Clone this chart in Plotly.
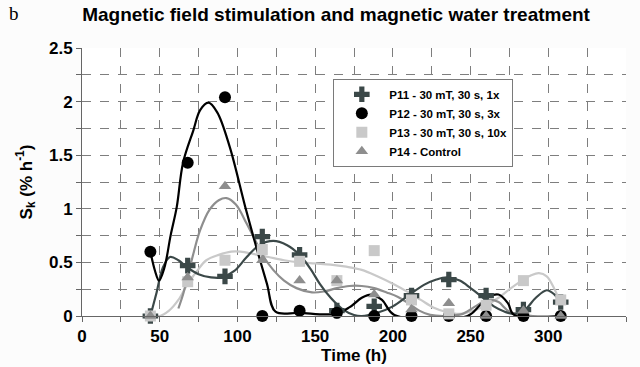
import plotly.graph_objects as go

# Measurement times (h)
time_h = [44, 68, 92, 116, 140, 164, 188, 212, 236, 260, 284, 308]

# Measured points
p11 = [0, 0.47, 0.37, 0.74, 0.57, 0.05, 0.09, 0.19, 0.34, 0.19, 0.06, 0.13]
p12 = [0.6, 1.43, 2.04, 0, 0.05, 0.03, 0, 0, 0, 0, 0, 0]
p13 = [0, 0.32, 0.52, 0.62, 0.51, 0.33, 0.61, 0.15, 0.02, 0.1, 0.33, 0.15]
p14 = [0, 0.36, 1.21, 0.52, 0.33, 0.33, 0.2, 0.06, 0.12, 0, 0.05, 0]

# Smoothed trend curves
p11_cx = [44, 48, 52, 56.6, 62, 68, 75, 83, 90, 98, 106, 114, 123, 132, 140, 147, 153, 160, 168, 175, 180,
          190, 200, 209, 220, 228, 235, 243, 250, 258, 265, 272, 278, 285, 292, 299, 304, 308]
p11_cy = [0, 0.22, 0.45, 0.55, 0.52, 0.45, 0.39, 0.36, 0.36, 0.42, 0.55, 0.66, 0.70, 0.66, 0.57, 0.44, 0.3,
          0.17, 0.06, 0.01, 0, 0.03, 0.09, 0.18, 0.29, 0.34, 0.36, 0.33, 0.26, 0.17, 0.09, 0.04, 0.02, 0.06,
          0.17, 0.24, 0.2, 0.13]

p12_cx = [44, 47, 49.5, 53, 57, 61, 65, 71.6, 76, 81.3, 87, 95, 105, 112, 119, 124.5, 140, 163, 172, 180,
          186, 193, 201, 248, 256, 262, 268, 274, 278, 308]
p12_cy = [0.6, 0.42, 0.33, 0.45, 0.75, 1.02, 1.43, 1.73, 1.92, 1.99, 1.9, 1.58, 1.02, 0.65, 0.3, 0.04, 0.03,
          0.02, 0.08, 0.17, 0.2, 0.15, 0.01, 0, 0.1, 0.18, 0.2, 0.12, 0.01, 0]

p13_cx = [44, 50, 56, 62, 68, 74, 80, 88, 96, 102, 110, 120, 130, 140, 150, 160, 170, 180, 190, 200, 210,
          218, 226, 234, 243, 252, 260, 268, 276, 283, 289, 294, 299, 304, 307]
p13_cy = [0.01, 0, 0.05, 0.15, 0.3, 0.42, 0.52, 0.57, 0.6, 0.6, 0.58, 0.55, 0.52, 0.5, 0.49, 0.48, 0.46,
          0.43, 0.37, 0.3, 0.22, 0.15, 0.08, 0.04, 0.02, 0.05, 0.1, 0.17, 0.26, 0.33, 0.38, 0.4, 0.37, 0.25,
          0.15]

p14_cx = [62, 65, 68, 72, 76, 82, 88, 93, 99, 106, 112, 117, 123, 130, 138, 148, 156, 164, 172, 180, 188,
          196, 203, 210, 217, 224, 235, 245, 252, 258, 263, 268, 275, 290, 308]
p14_cy = [0.07, 0.2, 0.37, 0.6, 0.8, 0.99, 1.08, 1.1, 1.04, 0.86, 0.69, 0.55, 0.43, 0.33, 0.26, 0.22, 0.23,
          0.26, 0.28, 0.28, 0.26, 0.22, 0.18, 0.12, 0.05, 0.01, 0, 0.02, 0.08, 0.13, 0.15, 0.13, 0.04, 0, 0]

names = ["<b>P11 - 30 mT, 30 s, 1x</b>", "<b>P12 - 30 mT, 30 s, 3x</b>",
         "<b>P13 - 30 mT, 30 s, 10x</b>", "<b>P14 - Control</b>"]
colors = ["#3b4848", "#000000", "#c9c9c9", "#8e8e8e"]
symbols = ["cross", "circle", "square", "triangle-up"]
sizes = [13, 12, 11, 11]

fig = go.Figure()

curves = [(p13_cx, p13_cy, 2), (p14_cx, p14_cy, 3), (p11_cx, p11_cy, 0), (p12_cx, p12_cy, 1)]
for cx, cy, i in curves:
    fig.add_trace(go.Scatter(x=cx, y=cy, mode="lines", line=dict(color=colors[i], width=2.2, shape="spline",
                                                                  smoothing=1.0),
                             showlegend=False, hoverinfo="skip", cliponaxis=False))

series = [p11, p12, p13, p14]
for i, s in enumerate(series):
    fig.add_trace(go.Scatter(x=time_h, y=s, mode="markers", name=names[i],
                             marker=dict(symbol=symbols[i], size=sizes[i], color=colors[i],
                                         line=dict(width=0)),
                             cliponaxis=False))

grid = dict(showgrid=True, gridcolor="#7e7e7e", griddash="dash", gridwidth=1)
fig.update_layout(
    width=640, height=367,
    margin=dict(l=82, r=14, t=48, b=51),
    paper_bgcolor="#fcfcfc", plot_bgcolor="#ffffff",
    font=dict(family="Liberation Sans, Arial, sans-serif", color="#000000"),
    title=dict(text="<b>Magnetic field stimulation and magnetic water treatment</b>",
               x=0.467, xref="paper", xanchor="center", y=0.962, yref="container", yanchor="middle",
               font=dict(size=19, family="Liberation Sans, Arial, sans-serif", color="#000")),
    legend=dict(x=0.462, y=0.885, xanchor="left", yanchor="top", bgcolor="#ffffff",
                bordercolor="#7a7a7a", borderwidth=1, itemwidth=45, tracegroupgap=0,
                font=dict(size=11.5, family="Liberation Sans, Arial, sans-serif", color="#000")),
    xaxis=dict(range=[0, 350], dtick=50, tick0=0, ticks="outside", ticklen=5, tickcolor="#666",
               showline=True, linecolor="#666", linewidth=1, zeroline=False, automargin=False,
               tickfont=dict(size=17, weight="bold"), **grid,
               minor=dict(dtick=25, ticks="outside", ticklen=5, tickcolor="#666", **grid),
               title=dict(text="<b>Time (h)</b>", font=dict(size=17), standoff=2)),
    yaxis=dict(range=[0, 2.5], dtick=0.5, tick0=0, ticks="outside", ticklen=5, tickcolor="#666",
               showline=True, linecolor="#666", linewidth=1, zeroline=False, automargin=False,
               tickfont=dict(size=17, weight="bold"), tickformat="~g", **grid,
               minor=dict(dtick=0.25, ticks="outside", ticklen=5, tickcolor="#666", **grid),
               title=dict(text="<b>S<sub>k</sub> (% h<sup>-1</sup>)</b>", font=dict(size=17), standoff=12)),
    annotations=[dict(text="b", xref="paper", yref="paper", x=-0.138, y=1.128, xanchor="left",
                      yanchor="middle", showarrow=False,
                      font=dict(family="Liberation Serif, Times New Roman, serif", size=19, color="#000"))],
)

fig.write_html("out.html")
